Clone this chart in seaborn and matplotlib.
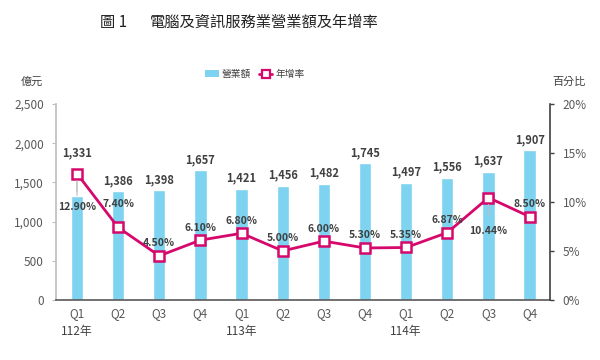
# 電腦及資訊服務業營業額及年增率 chart
import numpy as np
import pandas as pd
import matplotlib.pyplot as plt
import seaborn as sns

quarters = ["Q1", "Q2", "Q3", "Q4", "Q1", "Q2", "Q3", "Q4", "Q1", "Q2", "Q3", "Q4"]
years = ["112年", "", "", "", "113年", "", "", "", "114年", "", "", ""]
revenue = [1331, 1386, 1398, 1657, 1421, 1456, 1482, 1745, 1497, 1556, 1637, 1907]
growth = [12.90, 7.40, 4.50, 6.10, 6.80, 5.00, 6.00, 5.30, 5.35, 6.87, 10.44, 8.50]
# where each growth label sits relative to its marker: 1 above, -1 below
growth_side = [-1, 1, 1, 1, 1, 1, 1, 1, 1, 1, -1, 1]

BAR = "#7dd3f0"
LINE = "#d6086c"
TXT = "#404040"
TICK = "#595959"


def main() -> None:
    sns.set_theme(style="white")
    plt.rcParams["font.family"] = ["Noto Sans CJK TC", "DejaVu Sans"]

    df = pd.DataFrame({
        "key": [f"{i:02d}" for i in range(len(revenue))],
        "quarter": quarters,
        "revenue": revenue,
        "growth": growth,
    })
    x = np.arange(len(df))

    fig = plt.figure(figsize=(6, 3.6), dpi=100)
    ax = fig.add_axes([0.094, 0.167, 0.823, 0.544])
    sns.barplot(data=df, x="key", y="revenue", color=BAR, width=0.3,
                saturation=1, ax=ax, zorder=1)
    ax.set_xlim(-0.5, len(df) - 0.5)
    ax.set_ylim(0, 2500)
    ax.set_yticks(range(0, 2501, 500))
    ax.set_yticklabels([f"{v:,}" for v in range(0, 2501, 500)])
    ax.set_xticks(x)
    ax.set_xticklabels(df["quarter"])
    ax.set_xticks(np.arange(-0.5, len(df)), minor=True)
    ax.tick_params(axis="x", which="major", length=0, pad=5, labelsize=8.5, labelcolor=TICK)
    ax.tick_params(axis="x", which="minor", length=4, width=1, color=TICK, direction="out")
    ax.tick_params(axis="y", length=3, width=0.8, color="#bfbfbf", labelsize=8.5,
                   labelcolor=TICK, left=True, pad=6)
    ax.set_xlabel("")
    ax.set_ylabel("")
    for s in ["top", "right"]:
        ax.spines[s].set_visible(False)
    ax.spines["left"].set_color("#bfbfbf")
    ax.spines["bottom"].set_color(TICK)
    ax.spines["bottom"].set_linewidth(1.2)

    # bar value labels
    for i, v in enumerate(revenue):
        if i == 0:
            ax.annotate(f"{v:,}", (x[i], v), xytext=(0, 31), textcoords="offset points",
                        ha="center", va="center", fontsize=8, fontweight="bold", color=TXT,
                        arrowprops=dict(arrowstyle="-", color="#bfbfbf", lw=0.8,
                                        shrinkA=6, shrinkB=0))
        else:
            ax.annotate(f"{v:,}", (x[i], v), xytext=(0, 3), textcoords="offset points",
                        ha="center", va="bottom", fontsize=8, fontweight="bold", color=TXT)

    # year labels
    for i, y in enumerate(years):
        if y:
            ax.annotate(y, (x[i], 0), xytext=(0, -23), textcoords="offset points",
                        ha="center", va="center", fontsize=8.5, color=TXT,
                        annotation_clip=False)

    ax2 = ax.twinx()
    sns.lineplot(x=x, y=growth, ax=ax2, color=LINE, lw=2, marker="s", markersize=7,
                 markerfacecolor="white", markeredgecolor=LINE, markeredgewidth=1.8,
                 zorder=3)
    ax2.set_ylim(0, 20)
    ax2.set_yticks(range(0, 21, 5))
    ax2.set_yticklabels([f"{v}%" for v in range(0, 21, 5)])
    ax2.tick_params(axis="y", length=3, width=1, color=TXT, labelsize=8.5,
                    labelcolor=TICK, right=True, pad=6)
    for s in ["top", "left", "bottom"]:
        ax2.spines[s].set_visible(False)
    ax2.spines["right"].set_color(TXT)
    ax2.spines["right"].set_linewidth(1.2)

    for i, g in enumerate(growth):
        if growth_side[i] > 0:
            off = 17 if i == 1 else 9
            ax2.annotate(f"{g:.2f}%", (x[i], g), xytext=(0, off), textcoords="offset points",
                         ha="center", va="center", fontsize=7.5, fontweight="bold", color=TXT)
        else:
            ax2.annotate(f"{g:.2f}%", (x[i], g), xytext=(0, -24), textcoords="offset points",
                         ha="center", va="center", fontsize=7.5, fontweight="bold", color=TXT,
                         arrowprops=dict(arrowstyle="-", color="#bfbfbf", lw=0.8,
                                         shrinkA=5, shrinkB=5))

    # legend
    from matplotlib.patches import Patch
    from matplotlib.lines import Line2D
    handles = [
        Patch(facecolor=BAR, edgecolor="none", label="營業額"),
        Line2D([], [], color=LINE, lw=2, marker="s", markersize=6,
               markerfacecolor="white", markeredgecolor=LINE, markeredgewidth=1.6,
               label="年增率"),
    ]
    fig.legend(handles=handles, loc="center", bbox_to_anchor=(0.425, 1 - 74 / 360),
               ncol=2, frameon=False, fontsize=7, handlelength=1.4, handletextpad=0.3,
               columnspacing=0.8, labelcolor=TXT)

    fig.text(32 / 600, 1 - 82 / 360, "億元", ha="center", va="center", fontsize=8, color=TXT)
    fig.text(569 / 600, 1 - 82 / 360, "百分比", ha="center", va="center", fontsize=8, color=TXT)

    fig.text(100 / 600, 1 - 22 / 360, "圖 1", ha="left", va="center", fontsize=11, color="#222222")
    fig.text(150 / 600, 1 - 22 / 360, "電腦及資訊服務業營業額及年增率", ha="left", va="center",
             fontsize=11, color="#222222")

    fig.savefig("out.png", dpi=100)


if __name__ == "__main__":
    main()
